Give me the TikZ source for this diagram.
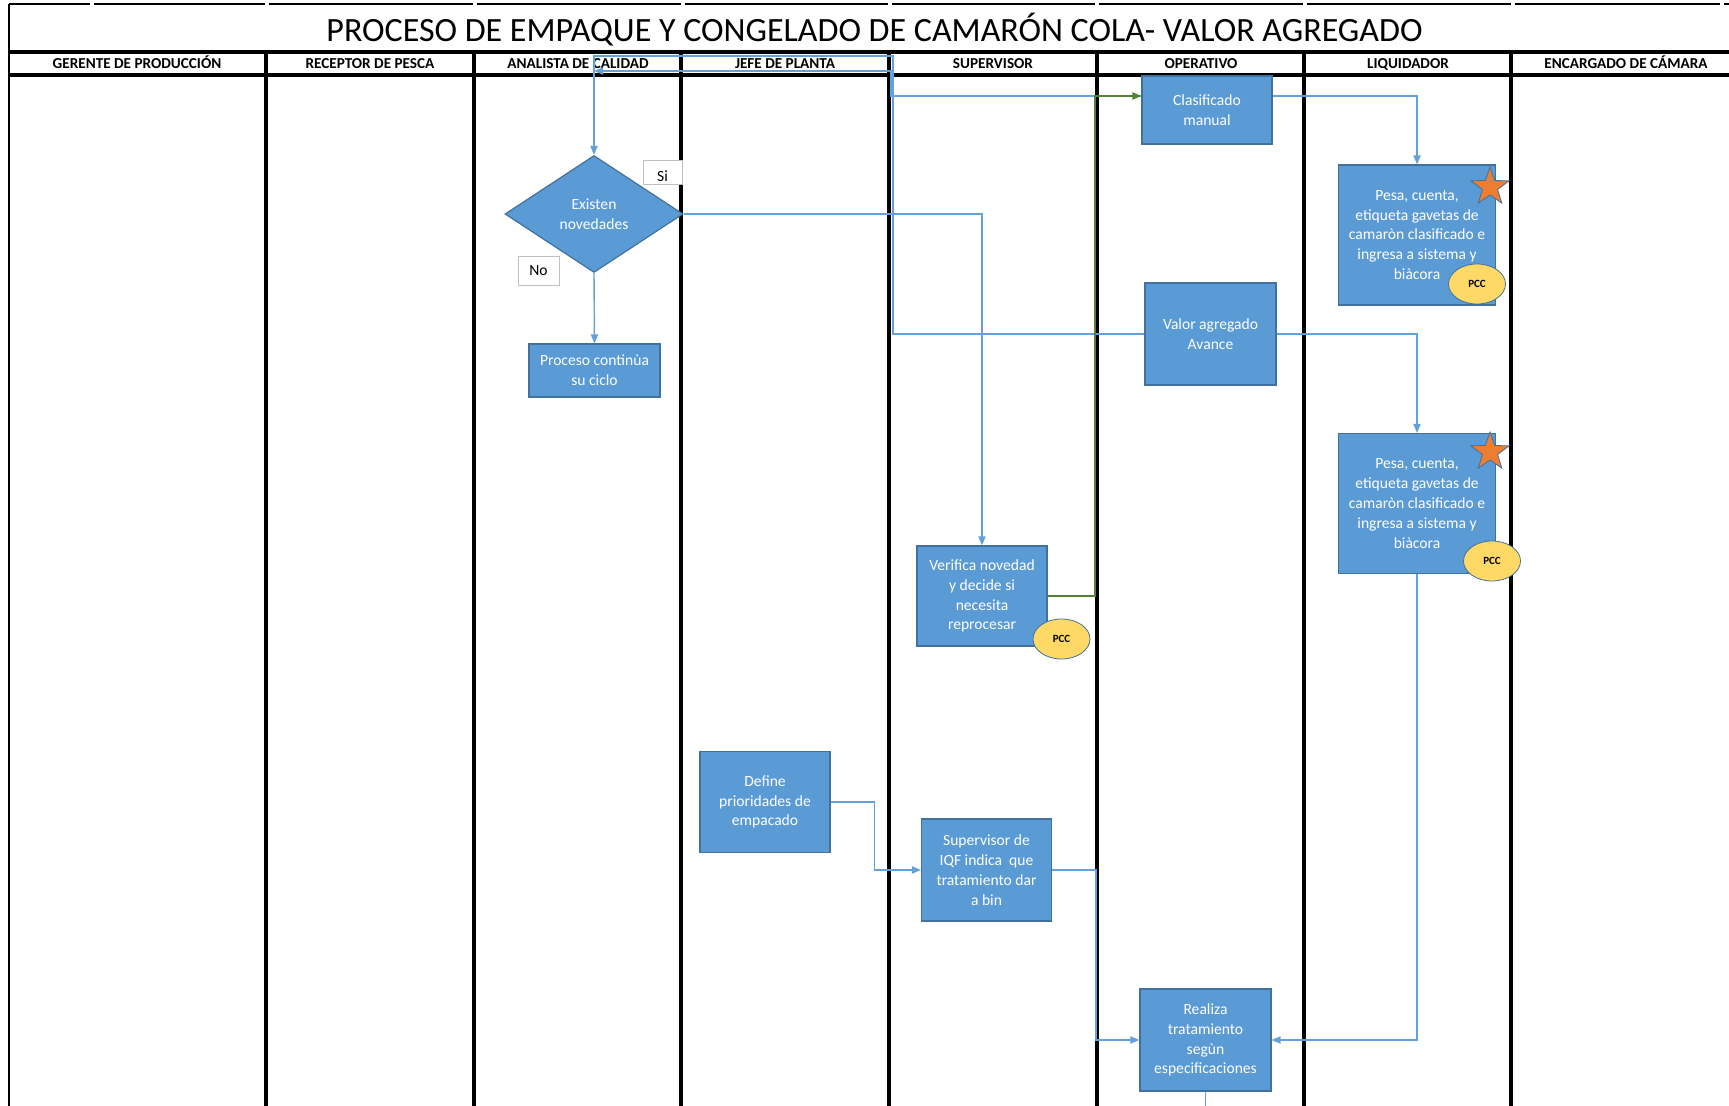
\documentclass[tikz,border=0pt]{standalone}
\usepackage{fontspec}
\setmainfont{Carlito}
\usepackage{tikz}
\usetikzlibrary{positioning,shapes.geometric,calc,arrows.meta}
\definecolor{boxblue}{RGB}{91,155,213}
\definecolor{boxedge}{RGB}{65,113,156}
\definecolor{lineblue}{RGB}{100,160,218}
\definecolor{linegreen}{RGB}{84,130,53}
\definecolor{pccyellow}{RGB}{255,217,102}
\definecolor{starorange}{RGB}{237,125,49}

\begin{document}
\begin{tikzpicture}[x=0.5pt,y=-0.5pt,
          lane/.style={line width=1.6pt},
          hdr/.style={anchor=base,font=\fontsize{7.6}{9}\selectfont\bfseries},
          proc/.style={rectangle,draw=boxedge,line width=0.6pt,fill=boxblue,text=white,align=center,inner sep=0pt,font=\fontsize{7.8}{9.9}\selectfont},
          decision/.style={diamond,aspect=1.52,draw=boxedge,line width=0.6pt,fill=boxblue,text=white,align=center,inner sep=0pt,font=\fontsize{7.8}{9.9}\selectfont},
          answer/.style={rectangle,draw=black!25,fill=white,inner sep=0pt,font=\fontsize{7.8}{9}\selectfont},
          pcc/.style={ellipse,draw=boxedge,fill=pccyellow,inner sep=0pt,minimum width=28.5pt,minimum height=20pt,font=\fontsize{5.5}{6}\selectfont\bfseries},
          pccstar/.style={star,star points=5,star point ratio=2.5,draw=boxedge,fill=starorange,inner sep=0pt,minimum size=20pt},
          flow/.style={draw=lineblue,line width=0.7pt,-{Triangle[length=4.5pt,width=3.6pt]}},
          flowg/.style={draw=linegreen,line width=0.7pt,-{Triangle[length=4.5pt,width=3.6pt]}}
          ]
          \useasboundingbox[fill=white] (0,0) rectangle (1729,1106);
          % the frame and the title
          \foreach \a/\b in {9/90,94/265,269/473,477/681,685/888,892/1095,1099/1303,1307/1511,1515/1720,1724/1729}
            \draw[line width=0.6pt] (\a,4) -- (\b,4);
          \draw[line width=0.6pt] (9,4) -- (9,1106);
          \node (title) at (874.5,30) {\fontsize{17}{20}\selectfont PROCESO DE EMPAQUE Y CONGELADO DE CAMARÓN COLA- VALOR AGREGADO};
          % the lanes
          \draw[lane] (9,52) -- (1729,52);
          \draw[lane] (9,75) -- (1729,75);
          \foreach \xc in {266,474,681,889,1097,1304,1511}
            \draw[lane] (\xc,52) -- (\xc,1106);
          \foreach \i/\xc/\name in {1/137/GERENTE DE PRODUCCIÓN,2/370/RECEPTOR DE PESCA,3/578/ANALISTA DE CALIDAD,4/785/JEFE DE PLANTA,5/993/SUPERVISOR,6/1201/OPERATIVO,7/1408/LIQUIDADOR,8/1626/ENCARGADO DE CÁMARA}
            \node[hdr] (h\i) at (\xc,69) {\name};
          % the steps
          \node[decision,minimum width=89pt,minimum height=58.5pt] (dec) at (594,214) {Existen\\novedades};
          \node[answer,minimum width=19.5pt,minimum height=12pt] (si) at (662.5,172) {\smash{\raisebox{-5pt}{Si}}};
          \node[answer,minimum width=20.5pt,minimum height=14.5pt] (no) at (538.5,270.5) {No};
          \node[proc,minimum width=65.5pt,minimum height=26.5pt] (cont) at (594.5,370.5) {Proceso continùa\\su ciclo};
          \node[proc,minimum width=65pt,minimum height=34pt] (clas) at (1207,110) {Clasificado\\manual};
          \node[proc,minimum width=78.5pt,minimum height=70pt] (pesa1) at (1417,235) {Pesa, cuenta,\\etiqueta gavetas de\\camaròn clasificado e\\ingresa a sistema y\\biàcora};
          \node[proc,minimum width=65.5pt,minimum height=51pt] (valor) at (1210.5,334) {Valor agregado\\Avance};
          \node[proc,minimum width=78.5pt,minimum height=70pt] (pesa2) at (1417,503.5) {Pesa, cuenta,\\etiqueta gavetas de\\camaròn clasificado e\\ingresa a sistema y\\biàcora};
          \node[proc,minimum width=65pt,minimum height=50pt] (verif) at (982,596) {Verifica novedad\\y decide si\\necesita\\reprocesar};
          \node[proc,minimum width=65pt,minimum height=50.5pt] (define) at (765,802) {Define\\prioridades de\\empacado};
          \node[proc,minimum width=65pt,minimum height=51pt] (iqf) at (986.5,870) {Supervisor de\\IQF indica\ \ que\\tratamiento dar\\a bin};
          \node[proc,minimum width=65.5pt,minimum height=51pt] (realiza) at (1205.5,1040) {Realiza\\tratamiento\\segùn\\especificaciones};
          % the control points
          \node[pccstar] (star1) at (1490,187) {};
          \node[pcc] (pcc1) at (1477,284) {PCC};
          \node[pccstar] (star2) at (1490,452) {};
          \node[pcc] (pcc2) at (1492,561) {PCC};
          \node[pcc] (pcc3) at (1061.5,639) {PCC};
          % the edges
          \coordinate (clasin) at ($(clas.west)+(0,-14)$);
          \coordinate (clasout) at ($(clas.east)+(0,-14)$);
          \coordinate (back) at (594,71);
          \coordinate (realizaout) at (1205.5,1106);
          \draw[flow] (clasin) -| (891,71) -- (back);
          \draw[flow] (valor.west) -| (893,56) -| (dec.north);
          \draw[flowg] (verif.east) -| (1095,96) -- (clasin);
          \draw[flow] (dec.east) -| (verif.north);
          \draw[flow] (dec.south) -- (cont.north);
          \draw[flow] (clasout) -| (pesa1.north);
          \draw[flow] (valor.east) -| (pesa2.north);
          \draw[flow] (pesa2.south) |- (realiza.east);
          \draw[flow] (define.east) -- ++(44,0) |- (iqf.west);
          \draw[flow] (iqf.east) -- ++(44,0) |- (realiza.west);
          \draw[draw=lineblue,line width=0.7pt] (realiza.south) -- (realizaout);
        \end{tikzpicture}
\end{document}
